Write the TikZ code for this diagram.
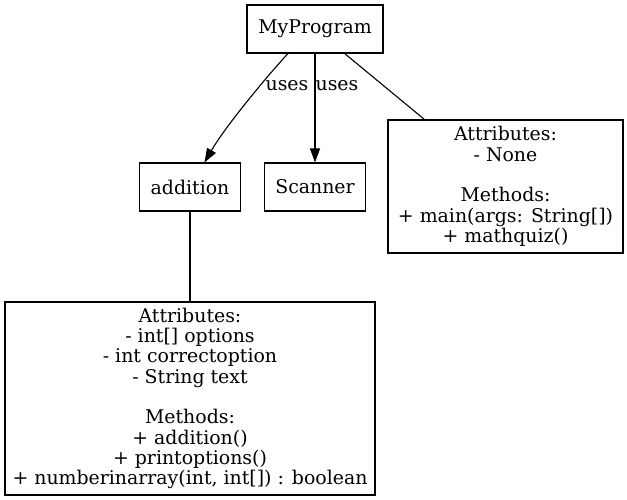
\documentclass[tikz,border=0pt]{standalone}
\usepackage{fontspec}
\setmainfont{DejaVu Serif}
\usetikzlibrary{arrows.meta}
\begin{document}
\begin{tikzpicture}[x=1pt,y=-1pt,
  box/.style={draw, line width=1.1pt, align=center, inner sep=0pt,
    font=\fontsize{18.9}{20.3}\selectfont},
  lbl/.style={font=\fontsize{18.9}{20.3}\selectfont, inner sep=0pt},
  conn/.style={line width=1.1pt},
  arr/.style={conn, -{Triangle[length=14pt,width=10pt]}}]
\useasboundingbox (0,0) rectangle (627,500);
\node[box, minimum width=136pt, minimum height=48pt] (prog) at (315,29) {MyProgram};
\node[box, minimum width=101pt, minimum height=48pt] (addition) at (190,187) {addition};
\node[box, minimum width=101pt, minimum height=48pt] (scanner) at (315,187) {Scanner};
\node[box, minimum width=235pt, minimum height=133pt] (progattr) at (505.5,186.5)
  {Attributes:\\- None\\[20.3pt]Methods:\\+ main(args: String[])\\+ mathquiz()};
\node[box, minimum width=370pt, minimum height=193pt] (addattr) at (190,398.5)
  {Attributes:\\- int[] options\\- int correctoption\\- String text\\[20.3pt]Methods:\\+ addition()\\+ printoptions()\\+ numberinarray(int, int[]) : boolean};
\draw[arr] ([xshift=-27pt]prog.south) .. controls +(-16,17) and +(22,-38) .. ([xshift=14.5pt]addition.north);
\draw[arr] (prog) -- (scanner);
\draw[conn] (prog) -- (progattr);
\draw[conn] (addition) -- (addattr);
\node[lbl] (l1) at (287,86) {uses};
\node[lbl] (l2) at (337,86) {uses};
\end{tikzpicture}
\end{document}
